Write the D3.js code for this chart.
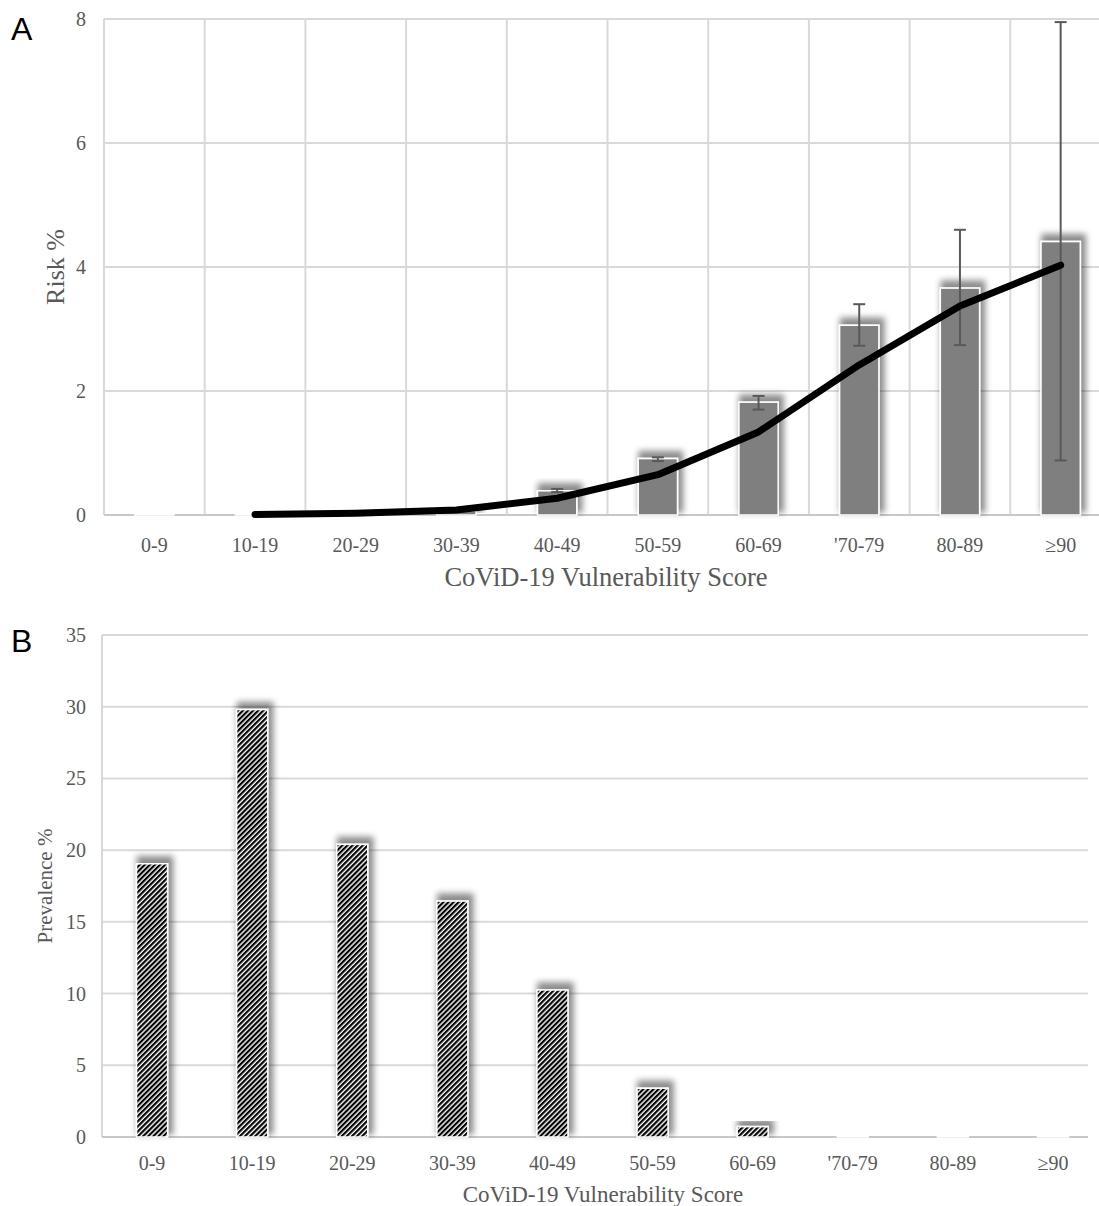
<!DOCTYPE html>
<html>
<head>
<meta charset="utf-8">
<script src="https://cdn.jsdelivr.net/npm/d3@7"></script>
<style>
  body { margin: 0; background: #fff; }
  svg { display: block; }
</style>
</head>
<body>
<div id="chart"></div>
<script>
// values
const categories = ["0-9", "10-19", "20-29", "30-39", "40-49", "50-59", "60-69", "'70-79", "80-89", "\u226590"];
const riskBars = [0.01, 0.01, 0.02, 0.07, 0.39, 0.91, 1.82, 3.06, 3.66, 4.41];
const riskLow = [null, null, null, null, 0.37, 0.87, 1.70, 2.73, 2.74, 0.88];
const riskHigh = [null, null, null, null, 0.42, 0.93, 1.92, 3.40, 4.60, 7.95];
const riskTrend = [null, 0.01, 0.03, 0.08, 0.27, 0.65, 1.34, 2.42, 3.37, 4.03];
const riskTicks = [0, 2, 4, 6, 8];
const prevalence = [19.05, 29.8, 20.4, 16.45, 10.25, 3.4, 0.72, 0.1, 0.02, 0.02];
const prevTicks = [0, 5, 10, 15, 20, 25, 30, 35];

const W = 1099, H = 1206;
const serif = "'Liberation Serif', 'Times New Roman', serif";
const grey = "#595959";
const gridCol = "#d9d9d9";

const svg = d3.select("#chart").append("svg")
    .attr("width", W)
    .attr("height", H);

const defs = svg.append("defs");

// soft shadow used by the bars (offset up and to the right)
const shadow = defs.append("filter")
    .attr("id", "shadow")
    .attr("x", "-50%").attr("y", "-50%")
    .attr("width", "200%").attr("height", "200%");
shadow.append("feMorphology")
    .attr("in", "SourceAlpha")
    .attr("operator", "dilate")
    .attr("radius", 2)
    .attr("result", "grown");
shadow.append("feGaussianBlur")
    .attr("in", "grown")
    .attr("stdDeviation", 3.2)
    .attr("result", "blur");
shadow.append("feOffset")
    .attr("in", "blur")
    .attr("dx", 3).attr("dy", -5)
    .attr("result", "off");
shadow.append("feFlood").attr("flood-color", "#000").attr("flood-opacity", 0.45);
shadow.append("feComposite").attr("in2", "off").attr("operator", "in").attr("result", "sh");
const merge = shadow.append("feMerge");
merge.append("feMergeNode").attr("in", "sh");
merge.append("feMergeNode").attr("in", "SourceGraphic");

// diagonal hatch for panel B
const hatch = defs.append("pattern")
    .attr("id", "hatch")
    .attr("patternUnits", "userSpaceOnUse")
    .attr("width", 3.6)
    .attr("height", 8)
    .attr("patternTransform", "rotate(45)");
hatch.append("rect").attr("width", 3.6).attr("height", 8).attr("fill", "#fff");
hatch.append("rect").attr("width", 2.2).attr("height", 8).attr("fill", "#000");

// ---------- panel A ----------
const xA = d3.scaleBand().domain(categories).range([104, 1111]);
const yA = d3.scaleLinear().domain([0, 8]).range([515, 19]);
const gA = svg.append("g");

// grid
gA.append("g").selectAll("line")
    .data(riskTicks.slice(1))
    .join("line")
    .attr("x1", xA.range()[0]).attr("x2", W)
    .attr("y1", d => yA(d)).attr("y2", d => yA(d))
    .attr("stroke", gridCol).attr("stroke-width", 2);

gA.append("g").selectAll("line")
    .data(categories)
    .join("line")
    .attr("x1", d => xA(d)).attr("x2", d => xA(d))
    .attr("y1", yA(8)).attr("y2", yA(0))
    .attr("stroke", gridCol).attr("stroke-width", 2);

gA.append("line")
    .attr("x1", xA.range()[0]).attr("x2", W)
    .attr("y1", yA(0)).attr("y2", yA(0))
    .attr("stroke", "#c8c8c8").attr("stroke-width", 2);

// y tick labels
gA.append("g").selectAll("text")
    .data(riskTicks)
    .join("text")
    .attr("x", 86)
    .attr("y", d => yA(d))
    .attr("dy", "0.35em")
    .attr("text-anchor", "end")
    .attr("font-family", serif).attr("font-size", 20).attr("fill", grey)
    .text(d => d);

// x tick labels
gA.append("g").selectAll("text")
    .data(categories)
    .join("text")
    .attr("x", d => xA(d) + xA.bandwidth() / 2)
    .attr("y", 545)
    .attr("dy", "0.35em")
    .attr("text-anchor", "middle")
    .attr("font-family", serif).attr("font-size", 20).attr("fill", grey)
    .text(d => d);

// bars
const bwA = xA.bandwidth() * 0.39;
gA.append("g").selectAll("rect")
    .data(riskBars)
    .join("rect")
    .attr("x", (d, i) => xA(categories[i]) + xA.bandwidth() / 2 - bwA / 2)
    .attr("y", d => yA(d))
    .attr("width", bwA)
    .attr("height", d => yA(0) - yA(d))
    .attr("fill", "#7f7f7f")
    .attr("stroke", "#fff").attr("stroke-width", 1.5)
    .attr("filter", "url(#shadow)");

// error bars
const errs = categories.map((c, i) => ({ c, lo: riskLow[i], hi: riskHigh[i] })).filter(d => d.lo != null);
const eg = gA.append("g").attr("stroke", grey).attr("stroke-width", 2).attr("fill", "none");
const ex = d => xA(d.c) + xA.bandwidth() / 2;
eg.selectAll("line.v").data(errs).join("line").attr("class", "v")
    .attr("x1", ex).attr("x2", ex)
    .attr("y1", d => yA(d.lo)).attr("y2", d => yA(d.hi));
eg.selectAll("line.t").data(errs).join("line").attr("class", "t")
    .attr("x1", d => ex(d) - 6).attr("x2", d => ex(d) + 6)
    .attr("y1", d => yA(d.hi)).attr("y2", d => yA(d.hi));
eg.selectAll("line.b").data(errs).join("line").attr("class", "b")
    .attr("x1", d => ex(d) - 6).attr("x2", d => ex(d) + 6)
    .attr("y1", d => yA(d.lo)).attr("y2", d => yA(d.lo));

// trend line
const trend = d3.line()
    .defined(d => d != null)
    .x((d, i) => xA(categories[i]) + xA.bandwidth() / 2)
    .y(d => yA(d));
gA.append("path")
    .datum(riskTrend)
    .attr("d", trend)
    .attr("fill", "none")
    .attr("stroke", "#000")
    .attr("stroke-width", 7)
    .attr("stroke-linecap", "round")
    .attr("stroke-linejoin", "round");

// titles
gA.append("text")
    .attr("transform", `translate(55,${(yA(0) + yA(8)) / 2}) rotate(-90)`)
    .attr("dy", "0.35em")
    .attr("text-anchor", "middle")
    .attr("font-family", serif).attr("font-size", 26).attr("fill", grey)
    .text("Risk %");

gA.append("text")
    .attr("x", 606).attr("y", 577)
    .attr("dy", "0.35em")
    .attr("text-anchor", "middle")
    .attr("font-family", serif).attr("font-size", 26.5).attr("fill", grey)
    .text("CoViD-19 Vulnerability Score");

svg.append("text")
    .attr("x", 11).attr("y", 40)
    .attr("font-family", "'Liberation Sans', Arial, sans-serif")
    .attr("font-size", 32).attr("fill", "#000")
    .text("A");

// ---------- panel B ----------
const xB = d3.scaleBand().domain(categories).range([102, 1103]);
const yB = d3.scaleLinear().domain([0, 35]).range([1137, 635]);
const gB = svg.append("g");

gB.append("g").selectAll("line")
    .data(prevTicks.slice(1))
    .join("line")
    .attr("x1", xB.range()[0]).attr("x2", 1088)
    .attr("y1", d => yB(d)).attr("y2", d => yB(d))
    .attr("stroke", gridCol).attr("stroke-width", 2);

gB.append("line")
    .attr("x1", xB.range()[0]).attr("x2", xB.range()[0])
    .attr("y1", yB(35)).attr("y2", yB(0))
    .attr("stroke", gridCol).attr("stroke-width", 2);

gB.append("line")
    .attr("x1", xB.range()[0]).attr("x2", 1088)
    .attr("y1", yB(0)).attr("y2", yB(0))
    .attr("stroke", "#c8c8c8").attr("stroke-width", 2);

gB.append("g").selectAll("text")
    .data(prevTicks)
    .join("text")
    .attr("x", 86)
    .attr("y", d => yB(d))
    .attr("dy", "0.35em")
    .attr("text-anchor", "end")
    .attr("font-family", serif).attr("font-size", 20).attr("fill", grey)
    .text(d => d);

gB.append("g").selectAll("text")
    .data(categories)
    .join("text")
    .attr("x", d => xB(d) + xB.bandwidth() / 2)
    .attr("y", 1163)
    .attr("dy", "0.35em")
    .attr("text-anchor", "middle")
    .attr("font-family", serif).attr("font-size", 20).attr("fill", grey)
    .text(d => d);

const bwB = 31;
gB.append("g").selectAll("rect")
    .data(prevalence)
    .join("rect")
    .attr("x", (d, i) => xB(categories[i]) + xB.bandwidth() / 2 - bwB / 2)
    .attr("y", d => yB(d))
    .attr("width", bwB)
    .attr("height", d => yB(0) - yB(d))
    .attr("fill", "url(#hatch)")
    .attr("stroke", "#fff").attr("stroke-width", 1.5)
    .attr("filter", "url(#shadow)");

gB.append("text")
    .attr("transform", `translate(45,${(yB(0) + yB(35)) / 2}) rotate(-90)`)
    .attr("dy", "0.35em")
    .attr("text-anchor", "middle")
    .attr("font-family", serif).attr("font-size", 21).attr("fill", grey)
    .text("Prevalence %");

gB.append("text")
    .attr("x", 603).attr("y", 1194)
    .attr("dy", "0.35em")
    .attr("text-anchor", "middle")
    .attr("font-family", serif).attr("font-size", 23).attr("fill", grey)
    .text("CoViD-19 Vulnerability Score");

svg.append("text")
    .attr("x", 11).attr("y", 652)
    .attr("font-family", "'Liberation Sans', Arial, sans-serif")
    .attr("font-size", 32).attr("fill", "#000")
    .text("B");
</script>
</body>
</html>
